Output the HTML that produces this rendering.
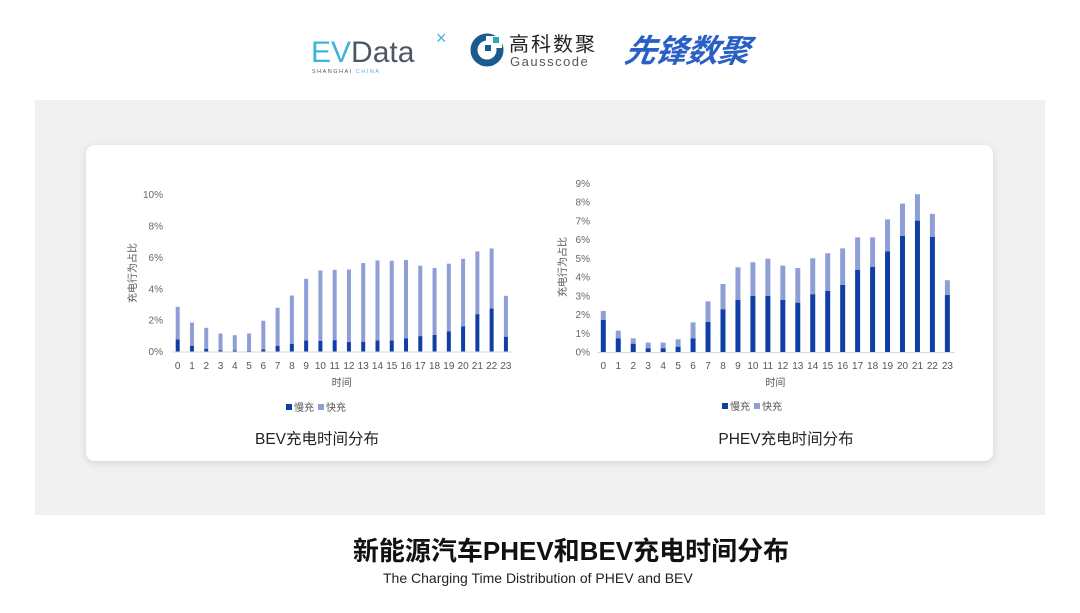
<!DOCTYPE html>
<html><head><meta charset="utf-8"><style>
body{margin:0;width:1080px;height:608px;background:#fff;overflow:hidden;font-family:"Liberation Sans","Noto Sans CJK SC",sans-serif;}
</style></head><body>
<svg id="s" width="1080" height="608" xmlns="http://www.w3.org/2000/svg" font-family="Liberation Sans, Noto Sans CJK SC, sans-serif">
<defs><filter id="sh" x="-5%" y="-5%" width="110%" height="115%"><feDropShadow dx="0" dy="2" stdDeviation="4" flood-color="#000" flood-opacity="0.12"/></filter></defs>
<text x="311" y="62" font-size="30" fill="#3fb3dc" letter-spacing="0">EV<tspan fill="#4d5866">Data</tspan></text>
<text x="436" y="44" font-size="18" fill="#3fb3dc">×</text>
<text x="312" y="73" font-size="5.5" fill="#4d5866" letter-spacing="1.5">SHANGHAI <tspan fill="#3fb3dc">CHINA</tspan></text>
<circle cx="487" cy="50" r="13" fill="none" stroke="#1b5a8c" stroke-width="7"/>
<rect x="486" y="36" width="16" height="12" fill="#fff"/>
<rect x="493" y="37" width="6" height="6" fill="#2aa7b8"/>
<rect x="485" y="45" width="6" height="6" fill="#1b5a8c"/>
<text x="509" y="51" font-size="20" fill="#222" letter-spacing="2">高科数聚</text>
<text x="510" y="66" font-size="13" fill="#555" letter-spacing="1.5">Gausscode</text>
<text x="624" y="62" font-size="32" font-weight="bold" font-style="italic" fill="#2a5fc6" transform="skewX(-10) translate(10,0)" letter-spacing="-1">先锋数聚</text>
<rect x="35" y="100" width="1010" height="415" fill="#f1f1f1"/>
<rect x="86" y="145" width="907" height="316" rx="9" fill="#fff" filter="url(#sh)"/>
<g id="c"></g>
<text x="317" y="444" font-size="15.5" fill="#222" text-anchor="middle">BEV充电时间分布</text>
<text x="786" y="444" font-size="15.5" fill="#222" text-anchor="middle">PHEV充电时间分布</text>
<text x="571" y="560" font-size="26" font-weight="bold" fill="#111" text-anchor="middle">新能源汽车PHEV和BEV充电时间分布</text>
<text x="383" y="583" font-size="14" fill="#222">The Charging Time Distribution of PHEV and BEV</text>
</svg>
<script>
var g=document.getElementById('c'),NS='http://www.w3.org/2000/svg';
function el(t,a,txt){var e=document.createElementNS(NS,t);for(var k in a)e.setAttribute(k,a[k]);if(txt!=null)e.textContent=txt;g.appendChild(e);}
function chart(o){
 for(var i=0;i<=o.max;i+=o.step){el('text',{x:o.lx,y:o.y0-i*o.u+3.5,'font-size':10,fill:'#666','text-anchor':'end'},i+'%');}
 el('line',{x1:o.ax1,x2:o.ax2,y1:o.y0+.5,y2:o.y0+.5,stroke:'#d9d9d9'});
 for(var i=0;i<24;i++){var x=o.x0+i*o.dx,t=o.t[i],s=o.s[i];
  el('rect',{x:x-o.bw/2,y:o.y0-t*o.u,width:o.bw,height:(t-s)*o.u,fill:'#8f9fd6'});
  el('rect',{x:x-o.bw/2,y:o.y0-s*o.u,width:o.bw,height:s*o.u,fill:'#0f3fa6'});
  el('text',{x:x,y:369,'font-size':10,fill:'#555','text-anchor':'middle'},i);}
 el('text',{x:(o.x0+o.x0+23*o.dx)/2,y:386,'font-size':10,fill:'#555','text-anchor':'middle'},'时间');
 el('text',{x:o.tx,y:o.ty,'font-size':10,fill:'#555','text-anchor':'middle',transform:'rotate(-90 '+o.tx+' '+o.ty+')'},'充电行为占比');
 el('rect',{x:o.lg,y:o.ly-7,width:6,height:6,fill:'#0f3fa6'});
 el('text',{x:o.lg+8,y:o.ly,'font-size':10,fill:'#555'},'慢充');
 el('rect',{x:o.lg+32,y:o.ly-7,width:6,height:6,fill:'#8f9fd6'});
 el('text',{x:o.lg+40,y:o.ly,'font-size':10,fill:'#555'},'快充');
}
chart({max:10,step:2,u:15.68,y0:351.5,lx:163,ax1:172,ax2:513,x0:177.7,dx:14.27,bw:4,tx:136,ty:273,lg:286,ly:411,
t:[2.85,1.85,1.51,1.15,1.04,1.15,1.96,2.79,3.57,4.64,5.17,5.21,5.23,5.64,5.81,5.79,5.83,5.47,5.32,5.6,5.91,6.38,6.57,3.55],
s:[0.77,0.36,0.17,0.08,0.06,0.04,0.13,0.36,0.49,0.7,0.68,0.72,0.6,0.62,0.7,0.7,0.83,0.98,1.06,1.28,1.6,2.38,2.74,0.94]});
chart({max:9,step:1,u:18.74,y0:352,lx:590,ax1:597,ax2:955,x0:603.3,dx:14.96,bw:5,tx:566,ty:267,lg:722,ly:410,
t:[2.19,1.14,0.73,0.5,0.5,0.68,1.58,2.7,3.63,4.52,4.79,4.98,4.61,4.48,5.0,5.27,5.53,6.12,6.12,7.08,7.92,8.42,7.37,3.83],
s:[1.71,0.73,0.44,0.2,0.2,0.28,0.73,1.6,2.28,2.78,2.99,2.99,2.78,2.63,3.08,3.26,3.58,4.38,4.54,5.37,6.19,7.01,6.14,3.04]});
</script>
</body></html>
